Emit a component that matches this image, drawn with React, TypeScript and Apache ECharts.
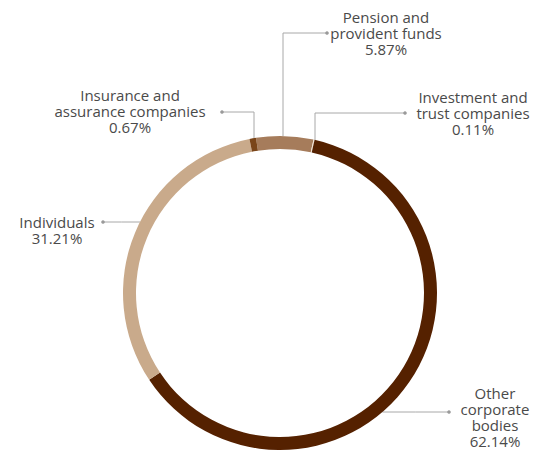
import React, { useEffect, useRef } from "react";
import * as echarts from "echarts";

const categories = [
  "Pension and provident funds",
  "Investment and trust companies",
  "Other corporate bodies",
  "Individuals",
  "Insurance and assurance companies",
];
const labelTexts = [
  "Pension and\nprovident funds",
  "Investment and\ntrust companies",
  "Other\ncorporate\nbodies",
  "Individuals",
  "Insurance and\nassurance companies",
];
const values = [5.87, 0.11, 62.14, 31.21, 0.67];
const colors = ["#A67C5B", "#F2E2D2", "#552100", "#C9AA8B", "#7A4519"];

const CX = 280;
const CY = 293;
const R_OUT = 157;
const R_IN = 144;

type Lay = { lx: number; ly: number; kind: "v" | "h"; a: number; elbow: number; end: number };
const layouts: Lay[] = [
  { lx: 386, ly: 33, kind: "v", a: 283, elbow: 33, end: 327 },
  { lx: 473, ly: 113, kind: "v", a: 315, elbow: 113, end: 405 },
  { lx: 495, ly: 417, kind: "h", a: 412, elbow: 0, end: 449 },
  { lx: 57, ly: 230, kind: "h", a: 222, elbow: 0, end: 103 },
  { lx: 130, ly: 111, kind: "v", a: 254, elbow: 112, end: 222 },
];

function linePoints(l: Lay): number[][] {
  if (l.kind === "v") {
    const y0 = CY - Math.sqrt(R_OUT * R_OUT - (l.a - CX) * (l.a - CX));
    return [
      [l.a, y0],
      [l.a, l.elbow],
      [l.end, l.elbow],
    ];
  }
  const dx = Math.sqrt(R_OUT * R_OUT - (l.a - CY) * (l.a - CY));
  const x0 = l.end > CX ? CX + dx : CX - dx;
  return [
    [x0, l.a],
    [(x0 + l.end) / 2, l.a],
    [l.end, l.a],
  ];
}

export default function App() {
  const ref = useRef<HTMLDivElement>(null);
  useEffect(() => {
    if (!ref.current) return;
    const chart = echarts.init(ref.current, undefined, { renderer: "svg" });
    const dots = layouts.map((l) => {
      const p = linePoints(l)[2];
      return {
        type: "circle",
        shape: { cx: p[0], cy: p[1], r: 1.8 },
        style: { fill: "#9a9a9a" },
        z: 10,
      };
    });
    chart.setOption({
      animation: false,
      backgroundColor: "#ffffff",
      graphic: dots,
      series: [
        {
          type: "pie",
          center: [CX, CY],
          radius: [R_IN, R_OUT],
          startAngle: 98.8,
          clockwise: true,
          avoidLabelOverlap: false,
          silent: true,
          data: categories.map((c, i) => ({
            name: c,
            value: values[i],
            itemStyle: { color: colors[i] },
          })),
          label: {
            show: true,
            position: "outside",
            formatter: (p: any) => labelTexts[p.dataIndex] + "\n" + values[p.dataIndex].toFixed(2) + "%",
            fontFamily: "Open Sans",
            fontSize: 15,
            lineHeight: 16,
            color: "#4a4a4a",
            align: "center",
          },
          labelLine: {
            show: true,
            lineStyle: { color: "#a8a8a8", width: 1 },
          },
          labelLayout: (params: any) => {
            const l = layouts[params.dataIndex];
            return {
              x: l.lx,
              y: l.ly,
              align: "center",
              verticalAlign: "middle",
              labelLinePoints: linePoints(l),
            };
          },
        },
      ],
    });
    return () => chart.dispose();
  }, []);
  return (
    <div
      ref={ref}
      style={{ position: "absolute", left: 0, top: 0, width: 544, height: 451 }}
    />
  );
}
